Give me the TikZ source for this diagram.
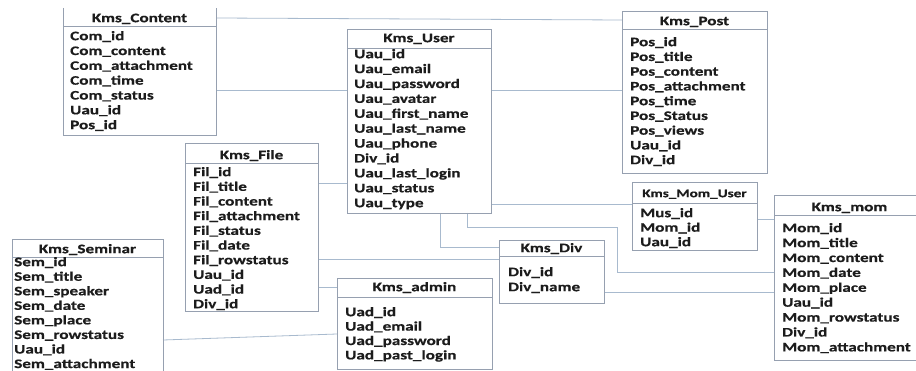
\documentclass[tikz,border=0pt]{standalone}
\usepackage{fontspec}
\newfontfamily\erfont{Carlito}[FakeStretch=1.32, BoldFeatures={FakeBold=0.5}]
\definecolor{boxline}{RGB}{150,160,176}
\definecolor{linkline}{RGB}{168,186,206}
\definecolor{ink}{RGB}{28,28,28}
\tikzset{
  tblline/.style={draw=boxline, line width=0.8pt},
  link/.style={draw=linkline, line width=0.8pt},
  frame/.style={inner sep=0pt, outer sep=0pt},
  fld/.style={anchor=west, inner sep=0pt, text height=8.4pt, text depth=0pt,
    text=ink, font=\erfont\bfseries\fontsize{13}{15}\selectfont},
  hdr/.style={anchor=center, inner sep=0pt, text height=8.4pt, text depth=0pt,
    text=ink, font=\erfont\bfseries\fontsize{13}{15}\selectfont},
}
% field list: prefix, x, first y, step, fields
\newcommand{\erfields}[5]{%
  \foreach [count=\i] \t in {#5} \node[fld] (#1-\i) at (#2,{#3+(\i-1)*#4}) {\t};}
\begin{document}
\begin{tikzpicture}[x=1pt,y=-1pt]
\useasboundingbox (0,0) rectangle (916,371);
\fill[white] (0,0) rectangle (916,371);

% ---------- table frames (as anchors for the connectors) ----------
\node[frame, minimum width=153, minimum height=127] (con) at (139.5,71.5) {};
\node[frame, minimum width=144, minimum height=184] (usr) at (419,121) {};
\node[frame, minimum width=145, minimum height=162] (pst) at (694.5,92) {};
\node[frame, minimum width=133, minimum height=168] (fil) at (251.5,227) {};
\node[frame, minimum width=151, minimum height=132] (sem) at (87.5,305) {};
\node[frame, minimum width=155, minimum height=91] (adm) at (414.5,323.5) {};
\node[frame, minimum width=105, minimum height=63] (div) at (551.5,271.5) {};
\node[frame, minimum width=125, minimum height=68] (mus) at (694.5,216) {};
\node[frame, minimum width=151, minimum height=165] (mom) at (849.5,277.5) {};

% ---------- connectors ----------
\draw[link] (con.east |- 0,18) -- (pst.west |- 0,20);
\draw[link] (con.east |- 0,90) -- (usr.west |- 0,90);
\draw[link] (usr.east |- 0,90) -- (pst.west |- 0,90);
\draw[link] (fil.east |- 0,183) -- (usr.west |- 0,183);
\draw[link] (fil.east |- 0,259) -- (div.west |- 0,259);
\draw[link] (fil.east |- 0,287) -- (adm.west |- 0,287);
\draw[link] (sem.east |- 0,340) -- (adm.west |- 0,334);
\draw[link] (usr.south -| 440,0) |- (div.west |- 0,247);
\draw[link] (usr.south -| 467,0) -- (467,227) -- (617,227) |- (mom.west |- 0,272);
\draw[link] (usr.east |- 0,204) -- (mus.west |- 0,204);
\draw[link] (mus.east |- 0,219) -- (mom.west |- 0,219);
\draw[link] (div.east |- 0,292) -- (mom.west |- 0,292);

% ---------- Kms_Content (open at the top) ----------
\draw[tblline] (con.north west) -- (con.south west) -- (con.south east) -- (con.north east);
\draw[tblline] (con.west |- 0,26) -- (con.east |- 0,26);
\node[hdr] (conH) at (139.5,18) {Kms\_Content};
\erfields{conF}{70}{36}{14.83}{Com\_id,Com\_content,Com\_attachment,Com\_time,Com\_status,Uau\_id,Pos\_id}

% ---------- Kms_User ----------
\draw[tblline] (usr.north west) rectangle (usr.south east);
\draw[tblline] (usr.west |- 0,48) -- (usr.east |- 0,48);
\node[hdr] (usrH) at (419,38) {Kms\_User};
\erfields{usrF}{354}{54}{14.9}{Uau\_id,Uau\_email,Uau\_password,Uau\_avatar,Uau\_first\_name,Uau\_last\_name,Uau\_phone,Div\_id,Uau\_last\_login,Uau\_status,Uau\_type}

% ---------- Kms_Post ----------
\draw[tblline] (pst.north west) rectangle (pst.south east);
\draw[tblline] (pst.west |- 0,29) -- (pst.east |- 0,29);
\node[hdr] (pstH) at (694.5,21) {Kms\_Post};
\erfields{pstF}{630}{42}{14.75}{Pos\_id,Pos\_title,Pos\_content,Pos\_attachment,Pos\_time,Pos\_Status,Pos\_views,Uau\_id,Div\_id}

% ---------- Kms_File ----------
\draw[tblline] (fil.north west) rectangle (fil.south east);
\draw[tblline] (fil.west |- 0,163) -- (fil.east |- 0,163);
\node[hdr] (filH) at (251.5,155) {Kms\_File};
\erfields{filF}{193}{172}{14.67}{Fil\_id,Fil\_title,Fil\_content,Fil\_attachment,Fil\_status,Fil\_date,Fil\_rowstatus,Uau\_id,Uad\_id,Div\_id}

% ---------- Kms_Seminar ----------
\draw[tblline] (sem.north west) rectangle (sem.south east);
\draw[tblline] (sem.west |- 0,257) -- (sem.east |- 0,257);
\node[hdr] (semH) at (87.5,249) {Kms\_Seminar};
\erfields{semF}{14}{262}{14.55}{Sem\_id,Sem\_title,Sem\_speaker,Sem\_date,Sem\_place,Sem\_rowstatus,Uau\_id,Sem\_attachment}

% ---------- Kms_admin ----------
\draw[tblline] (adm.north west) rectangle (adm.south east);
\draw[tblline] (adm.west |- 0,297) -- (adm.east |- 0,297);
\node[hdr] (admH) at (414.5,287) {Kms\_admin};
\erfields{admF}{345}{312}{14.4}{Uad\_id,Uad\_email,Uad\_password,Uad\_past\_login}

% ---------- Kms_Div ----------
\draw[tblline] (div.north west) rectangle (div.south east);
\draw[tblline] (div.west |- 0,256) -- (div.east |- 0,256);
\node[hdr] (divH) at (551.5,248) {Kms\_Div};
\erfields{divF}{508}{272}{15}{Div\_id,Div\_name}

% ---------- Kms_Mom_User ----------
\draw[tblline] (mus.north west) rectangle (mus.south east);
\draw[tblline] (mus.west |- 0,203) -- (mus.east |- 0,203);
\node[hdr, font=\erfont\bfseries\fontsize{11.5}{14}\selectfont] (musH) at (694.5,193) {Kms\_Mom\_User};
\erfields{musF}{640}{213}{14.5}{Mus\_id,Mom\_id,Uau\_id}

% ---------- Kms_mom ----------
\draw[tblline] (mom.north west) rectangle (mom.south east);
\draw[tblline] (mom.west |- 0,215) -- (mom.east |- 0,215);
\node[hdr] (momH) at (849.5,207) {Kms\_mom};
\erfields{momF}{782}{228}{14.9}{Mom\_id,Mom\_title,Mom\_content,Mom\_date,Mom\_place,Uau\_id,Mom\_rowstatus,Div\_id,Mom\_attachment}
\end{tikzpicture}
\end{document}
